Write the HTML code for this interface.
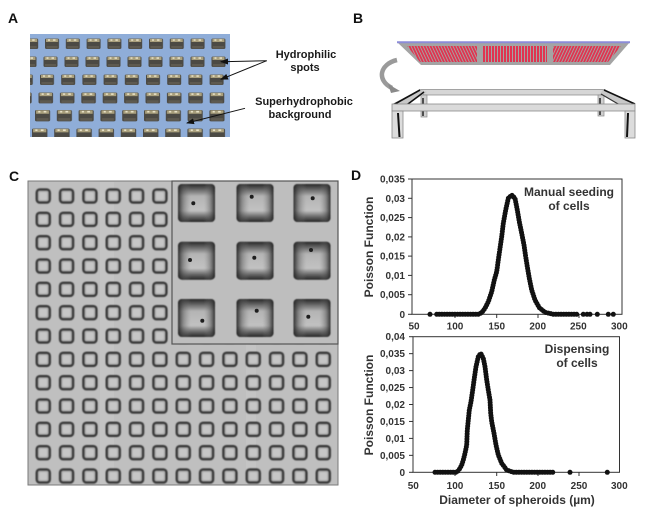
<!DOCTYPE html>
<html><head><meta charset="utf-8"><style>
html,body{margin:0;padding:0;background:#fff;}
svg{display:block;}
text{font-family:"Liberation Sans",Arial,sans-serif;font-weight:bold;}
</style></head><body>
<svg width="653" height="515" viewBox="0 0 653 515" xmlns="http://www.w3.org/2000/svg">
<defs>
  <g id="sqA">
    <rect x="0" y="0" width="14" height="10.5" rx="1.5" fill="#4c4a44"/>
    <rect x="1" y="0.3" width="12" height="3.2" fill="#a99f7c"/>
    <rect x="3" y="0.8" width="2" height="1.5" fill="#e8e2c8"/>
    <rect x="8" y="0.8" width="2.5" height="1.5" fill="#e8e2c8"/>
    <rect x="1.5" y="7.5" width="11" height="2.5" fill="#5e5a50"/>
  </g>
  <pattern id="pA1" x="45" y="38.5" width="20.8" height="12" patternUnits="userSpaceOnUse"><use href="#sqA"/></pattern>
  <pattern id="pA2" x="43.5" y="56.5" width="21" height="12" patternUnits="userSpaceOnUse"><use href="#sqA"/></pattern>
  <pattern id="pA3" x="40" y="74.5" width="21.2" height="12" patternUnits="userSpaceOnUse"><use href="#sqA"/></pattern>
  <pattern id="pA4" x="38.5" y="92.5" width="21.4" height="12" patternUnits="userSpaceOnUse"><use href="#sqA" transform="scale(1.04)"/></pattern>
  <pattern id="pA5" x="35" y="110" width="21.8" height="13" patternUnits="userSpaceOnUse"><use href="#sqA" transform="scale(1.08)"/></pattern>
  <pattern id="pA6" x="32" y="128.5" width="22.2" height="13" patternUnits="userSpaceOnUse"><use href="#sqA" transform="scale(1.1)"/></pattern>
  <pattern id="pC" x="31.5" y="184.3" width="23.333" height="23.333" patternUnits="userSpaceOnUse">
    <rect x="5.3" y="5.3" width="12.9" height="12.9" rx="3" fill="#b3b3b3" stroke="#3c3c3c" stroke-width="2.6"/>
    <rect x="8" y="8" width="7.5" height="7.5" rx="1.5" fill="#c6c6c6"/>
  </pattern>
  <linearGradient id="gv" x1="0" y1="0" x2="0" y2="1">
    <stop offset="0" stop-color="#262626"/>
    <stop offset="0.12" stop-color="#5a5a5a"/>
    <stop offset="0.32" stop-color="#b4b4b4"/>
    <stop offset="0.7" stop-color="#c2c2c2"/>
    <stop offset="0.88" stop-color="#5e5e5e"/>
    <stop offset="1" stop-color="#262626"/>
  </linearGradient>
  <linearGradient id="gh" x1="0" y1="0" x2="1" y2="0">
    <stop offset="0" stop-color="#1e1e1e" stop-opacity="0.9"/>
    <stop offset="0.15" stop-color="#505050" stop-opacity="0.45"/>
    <stop offset="0.35" stop-color="#888" stop-opacity="0"/>
    <stop offset="0.7" stop-color="#888" stop-opacity="0"/>
    <stop offset="0.87" stop-color="#505050" stop-opacity="0.45"/>
    <stop offset="1" stop-color="#1e1e1e" stop-opacity="0.9"/>
  </linearGradient>
  <pattern id="pr1" x="0" y="0" width="3" height="20" patternUnits="userSpaceOnUse" patternTransform="skewX(25)">
    <rect x="0" y="0" width="3" height="20" fill="#a4a4a4"/>
    <rect x="0" y="0" width="2" height="20" fill="#e03450"/>
  </pattern>
  <pattern id="pr2" x="0" y="0" width="3" height="20" patternUnits="userSpaceOnUse">
    <rect x="0" y="0" width="3" height="20" fill="#a4a4a4"/>
    <rect x="0" y="0" width="2" height="20" fill="#e03450"/>
  </pattern>
  <pattern id="pr3" x="0" y="0" width="3" height="20" patternUnits="userSpaceOnUse" patternTransform="skewX(-25)">
    <rect x="0" y="0" width="3" height="20" fill="#a4a4a4"/>
    <rect x="0" y="0" width="2" height="20" fill="#e03450"/>
  </pattern>
  <marker id="ah" markerWidth="8" markerHeight="6" refX="7" refY="3" orient="auto" markerUnits="userSpaceOnUse">
    <path d="M0,0 L8,3 L0,6 Z" fill="#111"/>
  </marker>
  <filter id="bl" x="-5%" y="-5%" width="110%" height="110%"><feGaussianBlur stdDeviation="0.5"/></filter>
</defs>

<!-- Panel labels -->
<text x="8" y="23" font-size="14" fill="#111">A</text>
<text x="353" y="23" font-size="14" fill="#111">B</text>
<text x="9" y="181" font-size="14" fill="#111">C</text>
<text x="351" y="180" font-size="14" fill="#111">D</text>

<!-- Panel A photo -->
<rect x="30" y="34" width="200" height="103" fill="#8fadd8"/>
<rect x="30" y="38.5" width="200" height="11" fill="url(#pA1)"/>
<rect x="30" y="56.5" width="200" height="11" fill="url(#pA2)"/>
<rect x="30" y="74.5" width="200" height="11" fill="url(#pA3)"/>
<rect x="30" y="92.5" width="200" height="11.5" fill="url(#pA4)"/>
<rect x="30" y="110" width="200" height="12" fill="url(#pA5)"/>
<rect x="30" y="128.5" width="200" height="8.5" fill="url(#pA6)"/>
<line x1="266.7" y1="60.7" x2="221" y2="61.7" stroke="#111" stroke-width="1" marker-end="url(#ah)"/>
<line x1="266.7" y1="60.7" x2="221" y2="79.3" stroke="#111" stroke-width="1" marker-end="url(#ah)"/>
<line x1="245" y1="108.3" x2="187" y2="123" stroke="#111" stroke-width="1" marker-end="url(#ah)"/>
<g font-size="11" fill="#1a1a1a" text-anchor="middle">
  <text x="306" y="58">Hydrophilic</text>
  <text x="305" y="71">spots</text>
  <text x="304" y="105">Superhydrophobic</text>
  <text x="300" y="118">background</text>
</g>

<!-- Panel B -->
<polygon points="397,42 630,42 610,65 421,65" fill="#a4a4a4"/>
<line x1="397" y1="42.3" x2="630" y2="42.3" stroke="#8c8cd8" stroke-width="2"/>
<polygon points="407,46 477,46 477,62 420,62" fill="url(#pr1)"/>
<rect x="483" y="46" width="64" height="16" fill="url(#pr2)"/>
<polygon points="553,46 621,46 608,62 553,62" fill="url(#pr3)"/>
<!-- curved arrow -->
<path d="M397,60 C380,64 376,80 392,88" fill="none" stroke="#9a9a9a" stroke-width="4.5"/>
<path d="M388,84 L400,91 L391,93 Z" fill="#8a8a8a"/>
<!-- table -->
<polygon points="420,89.5 605,89.5 605,95 424,95" fill="#d6d6d6" stroke="#8a8a8a" stroke-width="0.8"/>
<rect x="421" y="95" width="6" height="22" fill="#cfcfcf" stroke="#8a8a8a" stroke-width="0.7"/>
<rect x="598" y="95" width="6" height="21" fill="#cfcfcf" stroke="#8a8a8a" stroke-width="0.7"/>
<line x1="423" y1="98" x2="423" y2="116" stroke="#222" stroke-width="1.5"/>
<line x1="600" y1="98" x2="600" y2="115" stroke="#222" stroke-width="1.5"/>
<polygon points="392,104 420,89.5 427,92 403,107" fill="#c8c8c8"/>
<line x1="393" y1="105" x2="420" y2="90" stroke="#111" stroke-width="1.6"/>
<line x1="402" y1="108.5" x2="424" y2="92" stroke="#111" stroke-width="1.6"/>
<polygon points="603,89.5 635,104 625,107 600,94" fill="#c8c8c8"/>
<line x1="604" y1="90" x2="635" y2="104" stroke="#111" stroke-width="1.6"/>
<line x1="601" y1="94" x2="625" y2="108" stroke="#333" stroke-width="1.2"/>
<rect x="392" y="104" width="243" height="7" fill="#dadada" stroke="#8a8a8a" stroke-width="0.8"/>
<rect x="392" y="111" width="11" height="27" fill="#dcdcdc" stroke="#8a8a8a" stroke-width="0.8"/>
<line x1="398" y1="113" x2="399.5" y2="137" stroke="#111" stroke-width="2"/>
<rect x="625" y="111" width="10" height="27" fill="#dcdcdc" stroke="#8a8a8a" stroke-width="0.8"/>
<line x1="628" y1="113" x2="627" y2="137" stroke="#111" stroke-width="2"/>

<!-- Panel C -->
<rect x="28" y="181" width="310" height="304" fill="#bfbfbf" stroke="#7a7a7a" stroke-width="1"/>
<rect x="100" y="182" width="14" height="302" fill="#c8c8c8" opacity="0.6"/>
<rect x="246" y="182" width="10" height="302" fill="#c9c9c9" opacity="0.5"/>
<g filter="url(#bl)"><rect x="29" y="182" width="308" height="302" fill="url(#pC)"/></g>
<rect x="172" y="181" width="166" height="163" fill="#bebebe" stroke="#555" stroke-width="1.2"/>
<g filter="url(#bl)">
  <g id="bs">
    <rect x="178" y="184" width="37" height="38" rx="4" fill="url(#gv)"/>
    <rect x="178" y="184" width="37" height="38" rx="4" fill="url(#gh)"/>
  </g>
  <use href="#bs" x="58.5" y="0"/><use href="#bs" x="115.5" y="0"/>
  <use href="#bs" x="0" y="57.7"/><use href="#bs" x="58.5" y="57.7"/><use href="#bs" x="115.5" y="57.7"/>
  <use href="#bs" x="0" y="115"/><use href="#bs" x="58.5" y="115"/><use href="#bs" x="115.5" y="115"/>
</g>
<g fill="#1e1e1e">
  <circle cx="193.3" cy="203.3" r="2"/><circle cx="251.7" cy="196.7" r="2"/><circle cx="312.7" cy="198.3" r="2"/>
  <circle cx="190" cy="260" r="2"/><circle cx="254.3" cy="257.7" r="2"/><circle cx="311" cy="250" r="2"/>
  <circle cx="202.3" cy="320.7" r="2"/><circle cx="256.7" cy="310.7" r="2"/><circle cx="308.3" cy="316.7" r="2"/>
</g>

<!-- Panel D top plot -->
<rect x="412" y="179" width="210" height="135.3" fill="none" stroke="#333" stroke-width="1"/>
<g stroke="#333" stroke-width="1">
  <line x1="408" y1="179" x2="412" y2="179"/><line x1="408" y1="198.3" x2="412" y2="198.3"/>
  <line x1="408" y1="217.6" x2="412" y2="217.6"/><line x1="408" y1="236.9" x2="412" y2="236.9"/>
  <line x1="408" y1="256.1" x2="412" y2="256.1"/><line x1="408" y1="275.4" x2="412" y2="275.4"/>
  <line x1="408" y1="294.7" x2="412" y2="294.7"/><line x1="408" y1="314.3" x2="412" y2="314.3"/>
  <line x1="455" y1="314.3" x2="455" y2="318"/><line x1="496.7" y1="314.3" x2="496.7" y2="318"/>
  <line x1="538" y1="314.3" x2="538" y2="318"/><line x1="579" y1="314.3" x2="579" y2="318"/>
</g>
<g font-size="10" fill="#333" text-anchor="end">
  <text x="405" y="182.5">0,035</text><text x="405" y="201.8">0,03</text>
  <text x="405" y="221.1">0,025</text><text x="405" y="240.4">0,02</text>
  <text x="405" y="259.6">0,015</text><text x="405" y="278.9">0,01</text>
  <text x="405" y="298.2">0,005</text><text x="405" y="317.8">0</text>
</g>
<g font-size="10" fill="#333" text-anchor="middle">
  <text x="414" y="329.5">50</text><text x="455" y="329.5">100</text><text x="496.7" y="329.5">150</text>
  <text x="537.7" y="329.5">200</text><text x="578.3" y="329.5">250</text><text x="619.3" y="329.5">300</text>
</g>
<text transform="translate(373,247) rotate(-90)" font-size="12" fill="#333" text-anchor="middle">Poisson Function</text>
<text x="569" y="196" font-size="12" fill="#333" text-anchor="middle">Manual seeding</text>
<text x="569" y="210" font-size="12" fill="#333" text-anchor="middle">of cells</text>
<path d="M436.7 314.3 L478.3 314.3 L481.7 312.7 L485 308.3 L488.3 301.7 L491.7 291.7 L494.3 280 L496.7 271.7 L498.3 260 L500 248.3 L501.7 236.7 L503.3 223.3 L505.7 210 L508.3 198.3 L511.7 195 L515 198.3 L517.3 210 L519.3 221.7 L521.7 233.3 L524 245 L525.7 256.7 L527.3 266.7 L529.3 278.3 L531.7 290 L535 300 L539.3 307.7 L545 312.3 L553.3 314.3 L576.7 314.3" fill="none" stroke="#111" stroke-width="5" stroke-linecap="round" stroke-linejoin="round" stroke-dasharray="0 2.6"/>
<g fill="#111">
  <circle cx="430" cy="314.3" r="2.5"/><circle cx="583.3" cy="314.3" r="2.5"/><circle cx="587" cy="314.3" r="2.5"/>
  <circle cx="590" cy="314.3" r="2.5"/><circle cx="597.3" cy="314.3" r="2.5"/><circle cx="608.3" cy="314.3" r="2.5"/>
  <circle cx="613.3" cy="314.3" r="2.5"/>
</g>

<!-- Panel D bottom plot -->
<rect x="413" y="336.7" width="206.5" height="135.6" fill="none" stroke="#333" stroke-width="1"/>
<g stroke="#333" stroke-width="1">
  <line x1="409" y1="336.7" x2="413" y2="336.7"/><line x1="409" y1="353.65" x2="413" y2="353.65"/>
  <line x1="409" y1="370.6" x2="413" y2="370.6"/><line x1="409" y1="387.55" x2="413" y2="387.55"/>
  <line x1="409" y1="404.5" x2="413" y2="404.5"/><line x1="409" y1="421.45" x2="413" y2="421.45"/>
  <line x1="409" y1="438.4" x2="413" y2="438.4"/><line x1="409" y1="455.35" x2="413" y2="455.35"/>
  <line x1="409" y1="472.3" x2="413" y2="472.3"/>
  <line x1="455" y1="472.3" x2="455" y2="476"/><line x1="496.7" y1="472.3" x2="496.7" y2="476"/>
  <line x1="538" y1="472.3" x2="538" y2="476"/><line x1="579" y1="472.3" x2="579" y2="476"/>
</g>
<g font-size="10" fill="#333" text-anchor="end">
  <text x="405" y="340.2">0,04</text><text x="405" y="357.2">0,035</text>
  <text x="405" y="374.1">0,03</text><text x="405" y="391">0,025</text>
  <text x="405" y="408">0,02</text><text x="405" y="425">0,015</text>
  <text x="405" y="441.9">0,01</text><text x="405" y="458.9">0,005</text>
  <text x="405" y="475.8">0</text>
</g>
<g font-size="10" fill="#333" text-anchor="middle">
  <text x="413.3" y="489">50</text><text x="455" y="489">100</text><text x="496.7" y="489">150</text>
  <text x="537.7" y="489">200</text><text x="579" y="489">250</text><text x="619.3" y="489">300</text>
</g>
<text transform="translate(373,405) rotate(-90)" font-size="12" fill="#333" text-anchor="middle">Poisson Function</text>
<text x="517" y="504" font-size="12" fill="#333" text-anchor="middle">Diameter of spheroids (µm)</text>
<text x="577" y="353" font-size="12" fill="#333" text-anchor="middle">Dispensing</text>
<text x="577" y="367" font-size="12" fill="#333" text-anchor="middle">of cells</text>
<path d="M435 472.3 L456.7 472.3 L458.3 470.7 L460 468.3 L461.7 465 L463.3 460 L465 453.3 L466.7 445 L467.3 430 L468.3 420 L469.3 410 L471 401.7 L472.7 390 L474.3 378.3 L476 366.7 L478.3 356.7 L480.7 353.3 L483.3 358.3 L485 366.7 L486.7 380 L488.3 390 L490 400 L490.7 413.3 L491.7 421.7 L494 433.3 L496 445 L498.3 455 L501.7 463.3 L506.7 470 L513.3 472.3 L553.3 472.3" fill="none" stroke="#111" stroke-width="5" stroke-linecap="round" stroke-linejoin="round" stroke-dasharray="0 2.6"/>
<g fill="#111">
  <circle cx="570" cy="472.3" r="2.5"/><circle cx="607.3" cy="472.3" r="2.5"/>
</g>
</svg>
</body></html>
